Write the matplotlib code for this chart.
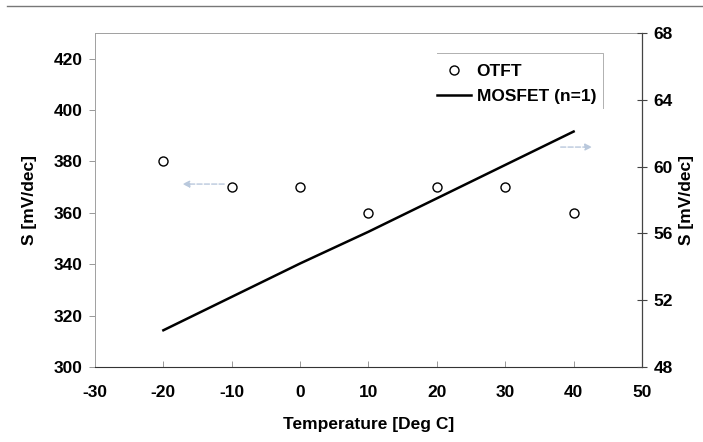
import matplotlib.pyplot as plt
from matplotlib.lines import Line2D

plt.rcParams['font.family'] = ['Liberation Sans', 'DejaVu Sans']
plt.rcParams['font.weight'] = 'bold'
plt.rcParams['axes.unicode_minus'] = False

temps = [-20, -10, 0, 10, 20, 30, 40]
otft_s = [380, 370, 370, 360, 370, 370, 360]
mosfet_s = [50.2, 52.2, 54.2, 56.1, 58.1, 60.1, 62.1]

fig = plt.figure(figsize=(7.03, 4.42), dpi=100)
ax = fig.add_axes([95 / 703, 1 - 367 / 442, 547 / 703, 334 / 442])
ax2 = ax.twinx()

ax.plot(temps, otft_s, 'o', mfc='white', mec='black', ms=6.5, mew=1.0, label='OTFT')
ax2.plot(temps, mosfet_s, '-', color='black', lw=1.8, label='MOSFET (n=1)')

ax.set_xlim(-30, 50)
ax.set_ylim(300, 430)
ax.set_yticks(range(300, 421, 20))
ax.set_xticks(range(-30, 51, 10))
ax2.set_ylim(48, 68)
ax2.set_yticks(range(48, 69, 4))

for s in ['left', 'top']:
    ax.spines[s].set_color('#a0a0a0')
    ax.spines[s].set_linewidth(0.7)
ax.spines['bottom'].set_color('#333333')
ax2.spines['right'].set_color('#444444')
ax2.spines['right'].set_linewidth(0.8)
for s in ['left', 'top', 'bottom']:
    ax2.spines[s].set_visible(False)

ax.tick_params(axis='x', direction='in', length=4, width=0.6, color='#888888',
               labelsize=12.5, pad=13)
ax.tick_params(axis='y', direction='out', length=4, width=0.6, color='#888888',
               labelsize=12.5, pad=5)
ax2.tick_params(axis='y', direction='inout', length=7, width=0.8, color='#444444',
                labelsize=12.5, pad=5)

ax.set_xlabel('Temperature [Deg C]', fontsize=12.5, fontweight='bold', labelpad=12)
ax.set_ylabel('S [mV/dec]', fontsize=12.5, fontweight='bold', labelpad=12)
ax2.set_ylabel('S [mV/dec]', fontsize=12.5, fontweight='bold', labelpad=4)

# faint arrows pointing to each axis
ax.annotate('', xy=(-17.6, 371.2), xytext=(-10.7, 371.2),
            arrowprops=dict(arrowstyle='-|>', color='#b9c8dc', lw=1, ls='--'))
ax.annotate('', xy=(43.1, 385.6), xytext=(37.7, 385.6),
            arrowprops=dict(arrowstyle='-|>', color='#b9c8dc', lw=1, ls='--'))

h1, l1 = ax.get_legend_handles_labels()
h2, l2 = ax2.get_legend_handles_labels()
leg = ax2.legend(h1 + h2, l1 + l2, loc='upper left',
                 bbox_to_anchor=((421 - 95) / 547, (367 - 48) / 334),
                 fontsize=12.5, frameon=False,
                 handlelength=2.0, handletextpad=0.3, borderpad=0.4,
                 labelspacing=0.6)

# partial legend border (only top and right edges visible in the scan)
fig.add_artist(Line2D([437 / 703, 603 / 703, 603 / 703],
                      [1 - 53 / 442, 1 - 53 / 442, 1 - 108 / 442],
                      color='#b0b0b0', lw=0.7, transform=fig.transFigure))
fig.add_artist(Line2D([0.01, 1.0], [1 - 6 / 442, 1 - 6 / 442],
                      color='#777777', lw=1.0, transform=fig.transFigure))

fig.savefig('out.png', dpi=100)
